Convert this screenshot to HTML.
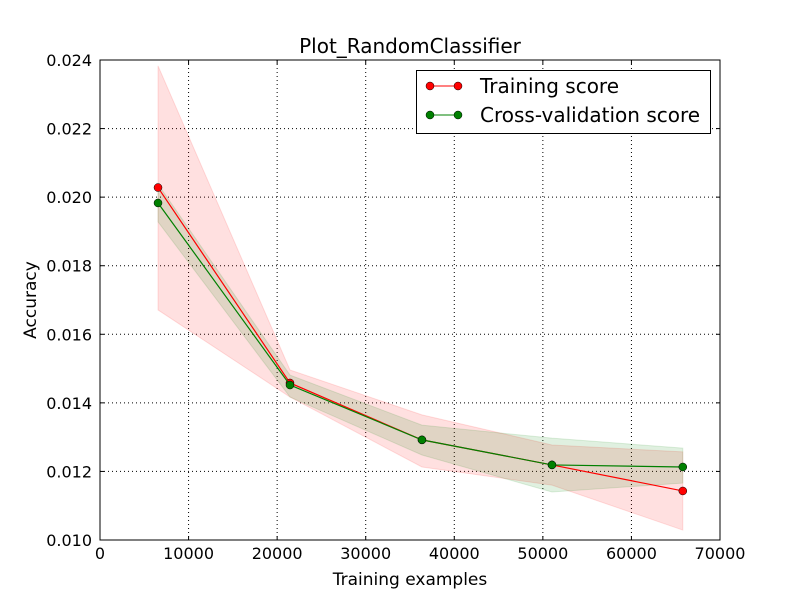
<!DOCTYPE html>
<html><head><meta charset="utf-8"><style>body{margin:0;background:#fff}svg{display:block;font-family:"DejaVu Sans","Liberation Sans",sans-serif}</style></head>
<body>
<svg id="chart" width="800" height="600" xmlns="http://www.w3.org/2000/svg">
<rect x="0" y="0" width="800" height="600" fill="#fff"/>
<g id="grid"></g>
<g id="bands"></g>
<g id="lines"></g>
<rect x="100" y="60" width="620" height="480" fill="none" stroke="#000" stroke-width="1"/>
<g id="ticks"></g>
<text x="410" y="53" text-anchor="middle" font-size="20">Plot_RandomClassifier</text>
<text x="410" y="585" text-anchor="middle" font-size="17">Training examples</text>
<text x="36" y="300" text-anchor="middle" font-size="17" transform="rotate(-90 36 300)">Accuracy</text>
<g>
<rect x="416.5" y="70.5" width="294" height="63" fill="#fff" stroke="#000"/>
<g>
<line x1="430" y1="86" x2="458" y2="86" stroke="red"/>
<circle cx="430" cy="86" r="4" fill="red" stroke="#000" stroke-width="0.5"/>
<circle cx="458" cy="86" r="4" fill="red" stroke="#000" stroke-width="0.5"/>
<text x="480" y="93" font-size="20">Training score</text></g>
<g>
<line x1="430" y1="115" x2="458" y2="115" stroke="green"/>
<circle cx="430" cy="115" r="4" fill="green" stroke="#000" stroke-width="0.5"/>
<circle cx="458" cy="115" r="4" fill="green" stroke="#000" stroke-width="0.5"/>
<text x="480" y="122" font-size="20">Cross-validation score</text></g>
</g>
</svg>
<script>
const sizes=[6550,21450,36350,51030,65800];
const trainMean=[0.02028,0.01458,0.01292,0.01219,0.01143];
const trainUpper=[0.02383,0.01496,0.01365,0.01277,0.01257];
const trainLower=[0.01671,0.01417,0.01213,0.0116,0.01029];
const cvMean=[0.01983,0.01452,0.01292,0.01219,0.01213];
const cvUpper=[0.02038,0.01481,0.01335,0.01297,0.01268];
const cvLower=[0.01928,0.01417,0.01248,0.0114,0.01166];
const xTicks=[0,10000,20000,30000,40000,50000,60000,70000];
const yTicks=[0.010,0.012,0.014,0.016,0.018,0.020,0.022,0.024];
const NS='http://www.w3.org/2000/svg';
const X=v=>100+v/70000*620, Y=v=>540-(v-0.010)/0.014*480;
function mk(p,t,a){const e=document.createElementNS(NS,t);for(const k in a)e.setAttribute(k,a[k]);document.getElementById(p).appendChild(e);return e;}
xTicks.forEach((t,i)=>{
 if(i>0&&i<xTicks.length-1){const g=mk('grid','line',{x1:X(t),x2:X(t),y1:60,y2:540,stroke:'#000','stroke-dasharray':'1,3','stroke-width':1});
 }
 const a=mk('ticks','line',{x1:X(t),x2:X(t),y1:540,y2:536,stroke:'#000'});
 const b=mk('ticks','line',{x1:X(t),x2:X(t),y1:60,y2:64,stroke:'#000'});
 const l=mk('ticks','text',{x:X(t),y:559,'text-anchor':'middle','font-size':16});l.textContent=t;
 
});
yTicks.forEach((t,i)=>{
 if(i>0&&i<yTicks.length-1){const g=mk('grid','line',{x1:100,x2:720,y1:Y(t),y2:Y(t),stroke:'#000','stroke-dasharray':'1,3','stroke-width':1});
 }
 const a=mk('ticks','line',{x1:100,x2:104,y1:Y(t),y2:Y(t),stroke:'#000'});
 const b=mk('ticks','line',{x1:716,x2:720,y1:Y(t),y2:Y(t),stroke:'#000'});
 const l=mk('ticks','text',{x:92,y:Y(t)+6,'text-anchor':'end','font-size':16});l.textContent=t.toFixed(3);
 
});
function band(up,lo,col,name){
 const pts=sizes.map((s,i)=>X(s)+','+Y(up[i])).concat(sizes.map((s,i)=>X(s)+','+Y(lo[i])).reverse());
 const p=mk('bands','polygon',{points:pts.join(' '),fill:col,'fill-opacity':0.12,stroke:col,'stroke-opacity':0.12});
 
}
band(trainUpper,trainLower,'red','training-band');
band(cvUpper,cvLower,'green','cv-band');
function series(m,col,name){
 const pl=mk('lines','polyline',{points:sizes.map((s,i)=>X(s)+','+Y(m[i])).join(' '),fill:'none',stroke:col,'stroke-width':1.2});
 
 sizes.forEach((s,i)=>{const c=mk('lines','circle',{cx:X(s),cy:Y(m[i]),r:4,fill:col,stroke:'#000','stroke-width':0.5});
 });
}
series(trainMean,'red','training');
series(cvMean,'green','cv');
</script>
</body></html>
